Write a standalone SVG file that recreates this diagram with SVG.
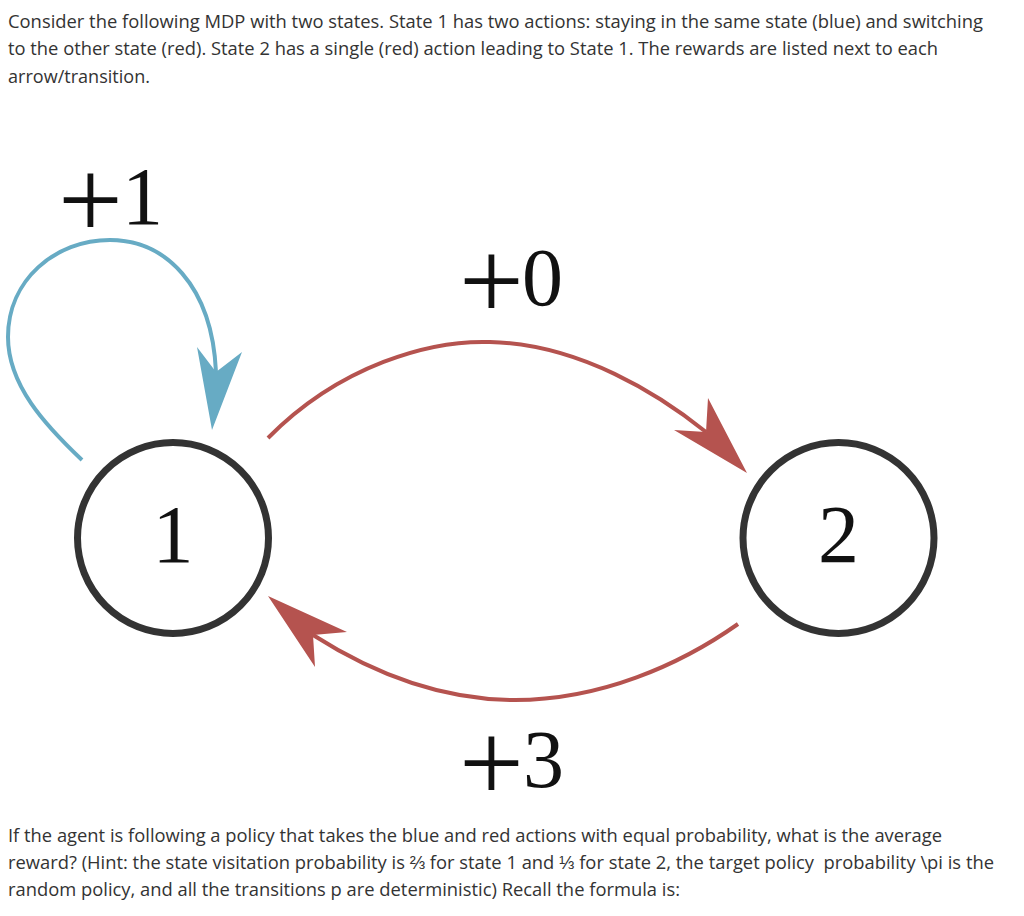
<svg xmlns="http://www.w3.org/2000/svg" width="1024" height="916" viewBox="0 0 1024 916">
<style>
.p{font-family:"Open Sans","Liberation Sans",sans-serif;font-size:18px;fill:#333}
.m{font-family:"Liberation Serif","DejaVu Serif",serif;font-size:82px;fill:#111;text-anchor:middle}
.pl{font-family:"Liberation Serif","DejaVu Serif",serif;font-size:115px;fill:#111;text-anchor:middle}
.st{fill:none;stroke:#333;stroke-width:7}
.blue{fill:none;stroke:#67abc4;stroke-width:4}
.red{fill:none;stroke:#b5534f;stroke-width:4}
.bh{fill:#67abc4}
.rh{fill:#b5534f}
</style>
<g id="intro">
<text class="p" x="8" y="28" textLength="975" lengthAdjust="spacingAndGlyphs">Consider the following MDP with two states. State 1 has two actions: staying in the same state (blue) and switching</text>
<text class="p" x="8" y="55" textLength="930" lengthAdjust="spacingAndGlyphs">to the other state (red). State 2 has a single (red) action leading to State 1. The rewards are listed next to each</text>
<text class="p" x="8" y="83" textLength="142" lengthAdjust="spacingAndGlyphs">arrow/transition.</text>
</g>
<g id="connectors">
<path class="blue" d="M82,460 C45,425 8,385 8,337 C8,280 55,240 110,240 C165,240 212,285 216,372"/>
<polygon class="bh" points="212,430 242,352 216,372 197,347"/>
<path class="red" d="M268,438 C340,365 430,340 490,342 C580,344 660,395 706,432"/>
<polygon class="rh" points="747,473 708,398 706,432 674,430"/>
<path class="red" d="M738,624 C680,665 600,700 515,700 C430,700 360,665 313,635"/>
<polygon class="rh" points="268,596 347,632 313,635 315,667"/>
</g>
<g id="label-loop"><text class="pl" x="90.5" y="238">+</text><text class="m" x="142.5" y="224">1</text></g>
<g id="label-12"><text class="pl" x="491.5" y="319">+</text><text class="m" x="542.5" y="305">0</text></g>
<g id="label-21"><text class="pl" x="491.5" y="801">+</text><text class="m" x="543.5" y="787">3</text></g>
<g id="state1">
<circle class="st" cx="173" cy="538" r="95.5"/>
<text class="m" x="173" y="562">1</text>
</g>
<g id="state2">
<circle class="st" cx="838.5" cy="538" r="95.5"/>
<text class="m" x="838.5" y="562">2</text>
</g>
<g id="question">
<text class="p" x="8" y="842" textLength="934" lengthAdjust="spacingAndGlyphs">If the agent is following a policy that takes the blue and red actions with equal probability, what is the average</text>
<text class="p" x="8" y="869" textLength="986" lengthAdjust="spacingAndGlyphs" xml:space="preserve">reward? (Hint: the state visitation probability is ⅔ for state 1 and ⅓ for state 2, the target policy  probability \pi is the</text>
<text class="p" x="8" y="896" textLength="672" lengthAdjust="spacingAndGlyphs">random policy, and all the transitions p are deterministic) Recall the formula is:</text>
</g>
</svg>
